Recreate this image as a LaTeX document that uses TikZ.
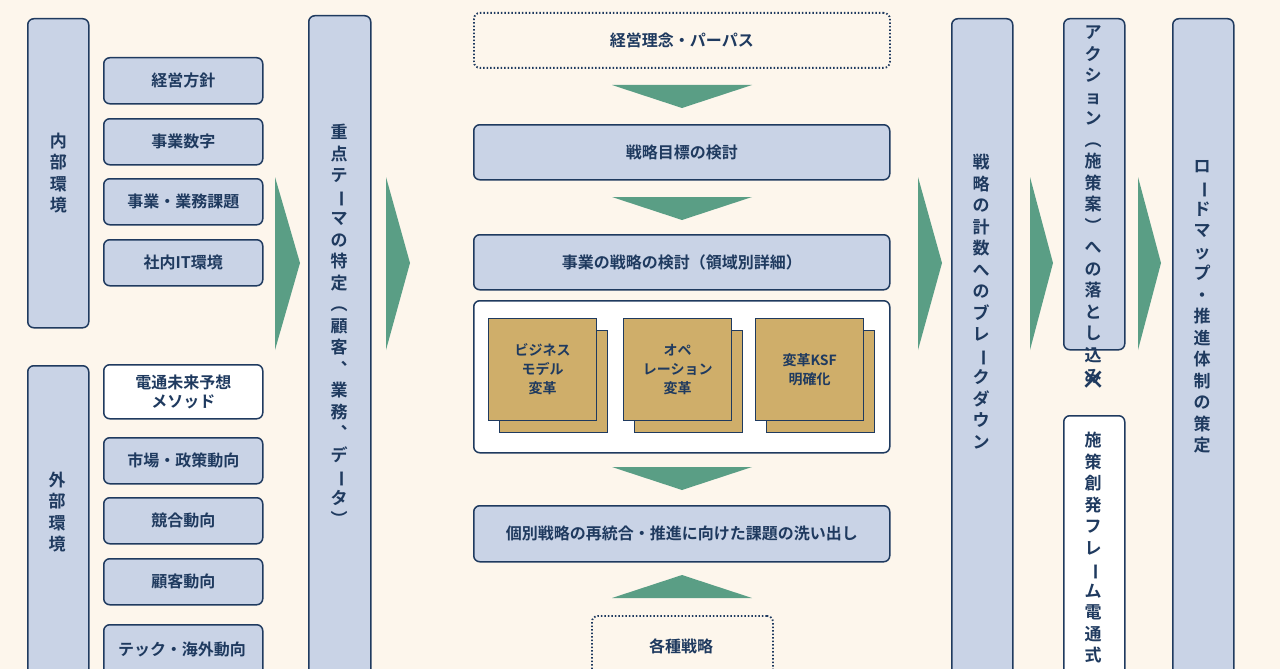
\documentclass[tikz,border=0pt]{standalone}
\usepackage{fontspec}
\usepackage{graphicx}
\setmainfont{Noto Sans CJK JP}[BoldFont={Noto Sans CJK JP Bold}]
\usetikzlibrary{positioning}
\definecolor{navy}{HTML}{1F3A5F}
\definecolor{boxblue}{HTML}{C9D3E6}
\definecolor{cream}{HTML}{FDF6EC}
\definecolor{arrowgreen}{HTML}{5A9E85}
\definecolor{gold}{HTML}{CFAE6A}
\newcommand{\vbar}{\rotatebox[origin=c]{-90}{ー}}
\tikzset{
  box/.style={draw=navy, line width=1.5pt, fill=boxblue, rounded corners=6pt,
    text=navy, font=\bfseries\fontsize{16}{19}\selectfont, inner sep=0pt,
    anchor=north west, align=center},
  wbox/.style={box, fill=white},
  dbox/.style={box, fill=cream, dotted, line width=1.8pt},
  vtext/.style={font=\bfseries\fontsize{17}{21.5}\selectfont, align=center, inner sep=0pt},
  card/.style={draw=navy, line width=1.3pt, fill=gold, inner sep=0pt,
    anchor=north west, minimum width=108pt, minimum height=102pt, align=center,
    text=navy, font=\bfseries\fontsize{14}{19}\selectfont},
  chev/.style={fill=arrowgreen}
}
\begin{document}
\begin{tikzpicture}[x=1pt,y=-1pt]
\fill[cream] (0,0) rectangle (1280,669);
\useasboundingbox (0,0) rectangle (1280,669);
% left column
\node[box, minimum width=61pt, minimum height=309pt] (inner) at (27,18) {};
\node[vtext, text=navy] at (inner.center) {内\\部\\環\\境};
\node[box, minimum width=61pt, minimum height=330pt] (outer) at (27,365) {};
\node[vtext, text=navy] at (57,512) {外\\部\\環\\境};
\node[box, minimum width=159pt, minimum height=46pt] (policy) at (103,57) {経営方針};
\node[box, minimum width=159pt, minimum height=46pt] (numbers) at (103,118) {事業数字};
\node[box, minimum width=159pt, minimum height=46pt] (issues) at (103,178) {事業・業務課題};
\node[box, minimum width=159pt, minimum height=46pt] (itenv) at (103,239) {社内IT環境};
\node[wbox, minimum width=159pt, minimum height=54pt] (method) at (103,364) {電通未来予想\\メソッド};
\node[box, minimum width=159pt, minimum height=46pt] (market) at (103,437) {市場・政策動向};
\node[box, minimum width=159pt, minimum height=46pt] (rival) at (103,497) {競合動向};
\node[box, minimum width=159pt, minimum height=46pt] (client) at (103,558) {顧客動向};
\node[box, minimum width=159pt, minimum height=60pt] (tech) at (103,624) {};
\node[text=navy, font=\bfseries\fontsize{16}{19}\selectfont] at (182,649) {テック・海外動向};
\fill[chev] (275,177) -- (300,263) -- (275,350) -- cycle;
% theme
\node[box, minimum width=62pt, minimum height=680pt] (theme) at (308,15) {};
\node[vtext, text=navy, anchor=north] at (339,124) {重\\点\\テ\\\vbar\\マ\\の\\特\\定\\︵\\顧\\客\\︑\\業\\務\\︑\\デ\\\vbar\\タ\\︶};
\fill[chev] (386,177) -- (410,263) -- (386,350) -- cycle;
% center column
\node[dbox, minimum width=416pt, minimum height=55pt] (purpose) at (473,12) {経営理念・パーパス};
\fill[chev] (612,85) -- (752,85) -- (682,108) -- cycle;
\node[box, minimum width=416pt, minimum height=55pt] (goal) at (473,124) {戦略目標の検討};
\fill[chev] (612,197) -- (752,197) -- (682,220) -- cycle;
\node[box, minimum width=416pt, minimum height=55pt] (bizstrat) at (473,234) {事業の戦略の検討（領域別詳細）};
\node[box, fill=white, minimum width=416pt, minimum height=152pt] (panel) at (473,300) {};
\foreach \x/\name/\txt in {488/model/ビジネス\\モデル\\変革, 623/ops/オペ\\レーション\\変革, 755/ksf/変革KSF\\明確化}{
  \node[card] (\name back) at (\x+11,330) {};
  \node[card] (\name) at (\x,318) {\txt};
}
\fill[chev] (612,467) -- (752,467) -- (682,490) -- cycle;
\node[box, minimum width=416pt, minimum height=56pt] (reint) at (473,505) {個別戦略の再統合・推進に向けた課題の洗い出し};
\fill[chev] (612,598) -- (752,598) -- (682,575) -- cycle;
\node[dbox, minimum width=181pt, minimum height=70pt] (various) at (591,615) {};
\node[text=navy, font=\bfseries\fontsize{16}{19}\selectfont] at (681,646) {各種戦略};
\fill[chev] (918,177) -- (942,263) -- (918,350) -- cycle;
% right columns
\node[box, minimum width=61pt, minimum height=680pt] (breakdown) at (951,18) {};
\node[vtext, text=navy, anchor=north] at (981,154) {戦\\略\\の\\計\\数\\へ\\の\\ブ\\レ\\\vbar\\ク\\ダ\\ウ\\ン};
\fill[chev] (1030,177) -- (1053,263) -- (1030,350) -- cycle;
\node[box, minimum width=61pt, minimum height=331pt] (action) at (1063,18) {};
\node[vtext, text=navy, anchor=north] at (1093,26) {ア\\ク\\シ\\ョ\\ン\\︵\\施\\策\\案\\︶\\へ\\の\\落\\と\\し\\込\\み};
\node[text=navy, font=\bfseries\fontsize{26}{26}\selectfont] (times) at (1093,380) {×};
\node[wbox, minimum width=61pt, minimum height=280pt] (frame) at (1063,415) {};
\node[vtext, text=navy, anchor=north] at (1093,432) {施\\策\\創\\発\\フ\\レ\\\vbar\\ム\\電\\通\\式};
\fill[chev] (1138,177) -- (1161,263) -- (1138,350) -- cycle;
\node[box, minimum width=61pt, minimum height=680pt] (roadmap) at (1172,18) {};
\node[vtext, text=navy, anchor=north] at (1202,160) {ロ\\\vbar\\ド\\マ\\ッ\\プ\\・\\推\\進\\体\\制\\の\\策\\定};
\end{tikzpicture}
\end{document}
